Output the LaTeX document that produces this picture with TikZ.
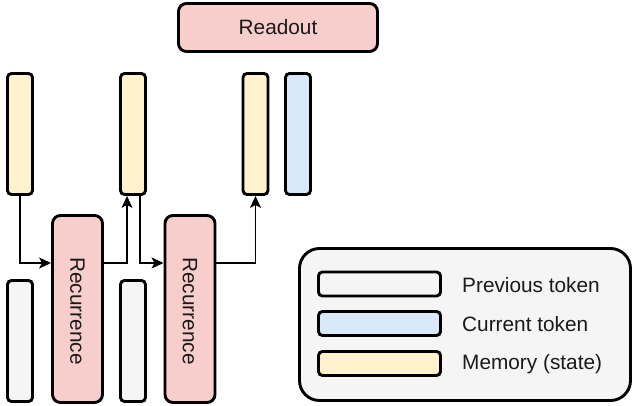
\documentclass[tikz,border=0pt]{standalone}
\usepackage{fontspec}
\setmainfont{Liberation Sans}
\usetikzlibrary{arrows.meta}
\definecolor{memfill}{HTML}{FFF2CC}
\definecolor{curfill}{HTML}{DAE8FC}
\definecolor{prevfill}{HTML}{F5F5F5}
\definecolor{recfill}{HTML}{F8CECC}
\definecolor{inkcol}{HTML}{1A1A1A}
\tikzset{
  box/.style={draw=black, line width=2.9pt, inner sep=0pt, rectangle},
  tokenbar/.style={box, rounded corners=4pt, minimum width=25pt, minimum height=121pt},
  membar/.style={tokenbar, fill=memfill},
  curbar/.style={tokenbar, fill=curfill},
  prevbar/.style={tokenbar, fill=prevfill},
  recbox/.style={box, fill=recfill, rounded corners=8pt, minimum width=50pt, minimum height=187pt},
  legswatch/.style={box, rounded corners=4pt, minimum width=122pt, minimum height=24pt},
  lbl/.style={text=inkcol, font=\fontsize{20.8}{24}\selectfont, inner sep=0pt},
  arr/.style={draw=black, line width=1.3pt, -{Stealth[length=12pt, width=11pt, inset=3pt]}},
}
\begin{document}
\begin{tikzpicture}[x=1pt, y=-1pt]
\useasboundingbox (0,0) rectangle (634,406);

% readout head
\node[box, fill=recfill, rounded corners=8pt, minimum width=199pt, minimum height=48pt] (readout) at (278,27.5) {};
\node[lbl] (readouttxt) at (278,27.5) {Readout};

% memory (state) bars
\node[membar] (mem1) at (20,134) {};
\node[membar] (mem2) at (133,134) {};
\node[membar] (mem3) at (255.5,134) {};
\node[curbar] (cur) at (298,134) {};

% previous tokens
\node[prevbar] (prev1) at (20,341) {};
\node[prevbar] (prev2) at (133,341) {};

% recurrence blocks
\node[recbox] (rec1) at (77.5,309) {};
\node[lbl, rotate=-90] (rec1txt) at (77.5,311) {Recurrence};
\node[recbox] (rec2) at (190,309) {};
\node[lbl, rotate=-90] (rec2txt) at (190,311) {Recurrence};

% connectors
\coordinate (lvl) at (0,263);
\draw[arr] (mem1.south) |- (rec1.west |- lvl);
\draw[arr] (rec1.east |- lvl) -| ([xshift=-6pt]mem2.south);
\draw[arr] ([xshift=7pt]mem2.south) |- (rec2.west |- lvl);
\draw[arr] (rec2.east |- lvl) -| (mem3.south);

% legend
\node[box, fill=prevfill, rounded corners=20pt, minimum width=331pt, minimum height=152pt] (legend) at (465,324.5) {};
\node[legswatch, fill=prevfill] (legprev) at (379.5,284) {};
\node[legswatch, fill=curfill] (legcur) at (379.5,323.5) {};
\node[legswatch, fill=memfill] (legmem) at (379.5,363.5) {};
\node[lbl, anchor=west] (legprevtxt) at (462,285) {Previous token};
\node[lbl, anchor=west] (legcurtxt) at (462,324.5) {Current token};
\node[lbl, anchor=west] (legmemtxt) at (462,364.5) {Memory (state)};
\end{tikzpicture}
\end{document}
